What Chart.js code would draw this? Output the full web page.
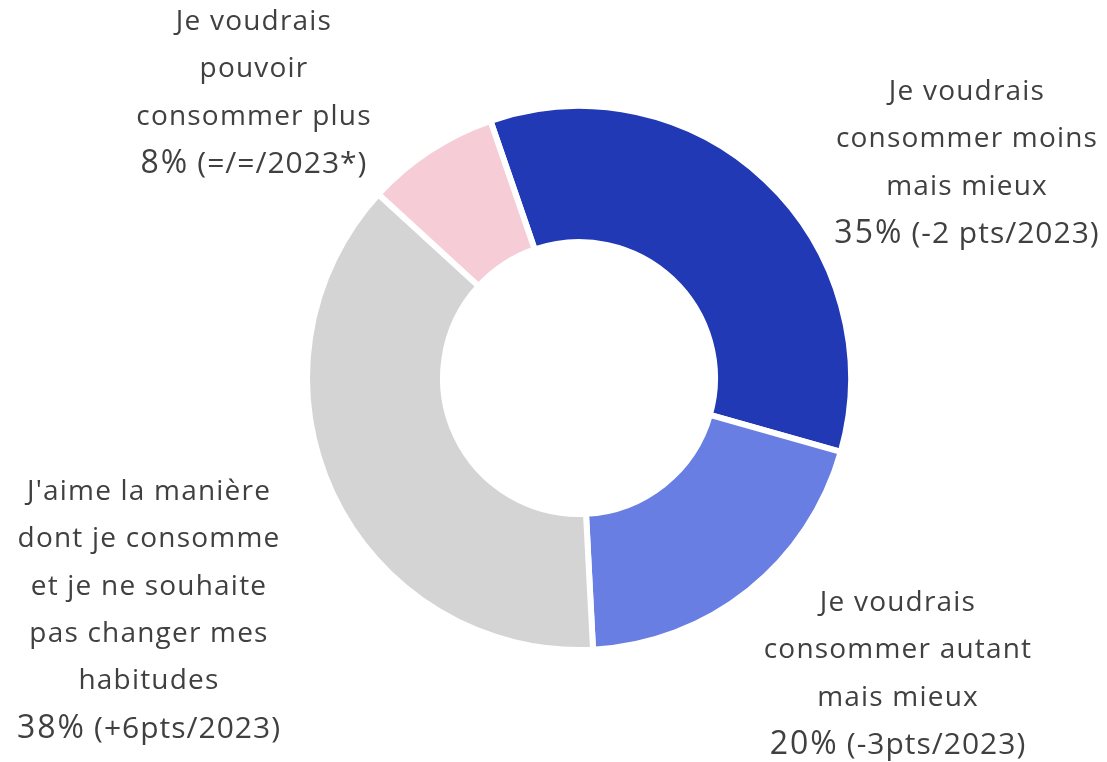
<!DOCTYPE html>
<html>
<head>
<meta charset="utf-8">
<script src="https://cdn.jsdelivr.net/npm/chart.js@4.4.1/dist/chart.umd.min.js"></script>
<style>
  html, body { margin: 0; padding: 0; background: #ffffff; }
  #wrap { width: 1107px; height: 762px; position: relative; }
</style>
</head>
<body>
<div id="wrap"><canvas id="donut"></canvas></div>
<script>
// categories et valeurs (%)
const categories = [
    'Je voudrais consommer moins mais mieux',
    'Je voudrais consommer autant mais mieux',
    "J'aime la manière dont je consomme et je ne souhaite pas changer mes habitudes",
    'Je voudrais pouvoir consommer plus'
];
const values = [35, 20, 38, 8];
const evolutions = ['(-2 pts/2023)', '(-3pts/2023)', '(+6pts/2023)', '(=/=/2023*)'];
const colors = ['#2139b4', '#687ee3', '#d4d4d4', '#f6cdd7'];

// lignes des étiquettes (texte coupé comme dans l'original)
const labelLines = [
    ['Je voudrais', 'consommer moins', 'mais mieux'],
    ['Je voudrais', 'consommer autant', 'mais mieux'],
    ["J'aime la manière", 'dont je consomme', 'et je ne souhaite', 'pas changer mes', 'habitudes'],
    ['Je voudrais', 'pouvoir', 'consommer plus']
];
// position du centre de chaque bloc, relative au centre du donut
const labelAnchors = [
    { dx: 388, top: -286 },
    { dx: 319, top: 225 },
    { dx: -430, top: 114 },
    { dx: -325, top: -356 }
];

const FONT = '"Open Sans", "Lato", sans-serif';
const LINE_H = 47.3;

const outsideLabels = {
    id: 'outsideLabels',
    afterDraw(chart) {
        const ctx = chart.ctx;
        const arc = chart.getDatasetMeta(0).data[0];
        const cx = arc.x, cy = arc.y;
        ctx.save();
        ctx.fillStyle = '#404040';
        ctx.textBaseline = 'middle';
        labelLines.forEach((lines, i) => {
            const a = labelAnchors[i];
            const x = cx + a.dx;
            let y = cy + a.top;
            ctx.textAlign = 'center';
            ctx.font = '28px ' + FONT;
            ctx.letterSpacing = '1.2px';
            lines.forEach(line => {
                ctx.fillText(line, x, y);
                y += LINE_H;
            });
            // ligne du pourcentage : grande valeur + évolution
            const pct = values[i] + '%';
            ctx.font = '32px ' + FONT;
            ctx.letterSpacing = '2px';
            const w1 = ctx.measureText(pct).width + 8;
            ctx.font = '30px ' + FONT;
            ctx.letterSpacing = '1px';
            const w2 = ctx.measureText(evolutions[i]).width;
            const start = x - (w1 + w2) / 2;
            ctx.textAlign = 'left';
            ctx.font = '32px ' + FONT;
            ctx.letterSpacing = '2px';
            ctx.fillText(pct, start, y);
            ctx.font = '30px ' + FONT;
            ctx.letterSpacing = '1px';
            ctx.fillText(evolutions[i], start + w1, y + 1);
        });
        ctx.restore();
    }
};

const ctx = document.getElementById('donut').getContext('2d');
const donutChart = new Chart(ctx, {
    type: 'doughnut',
    data: {
        labels: categories,
        datasets: [{
            data: values,
            backgroundColor: colors,
            borderColor: '#ffffff',
            borderWidth: 6,
            hoverOffset: 0
        }]
    },
    options: {
        responsive: true,
        maintainAspectRatio: false,
        animation: false,
        rotation: -19,
        cutout: '50%',
        layout: {
            padding: { top: 103, bottom: 109, left: 304, right: 253 }
        },
        plugins: {
            legend: { display: false },
            tooltip: { enabled: false }
        }
    },
    plugins: [outsideLabels]
});
</script>
</body>
</html>
